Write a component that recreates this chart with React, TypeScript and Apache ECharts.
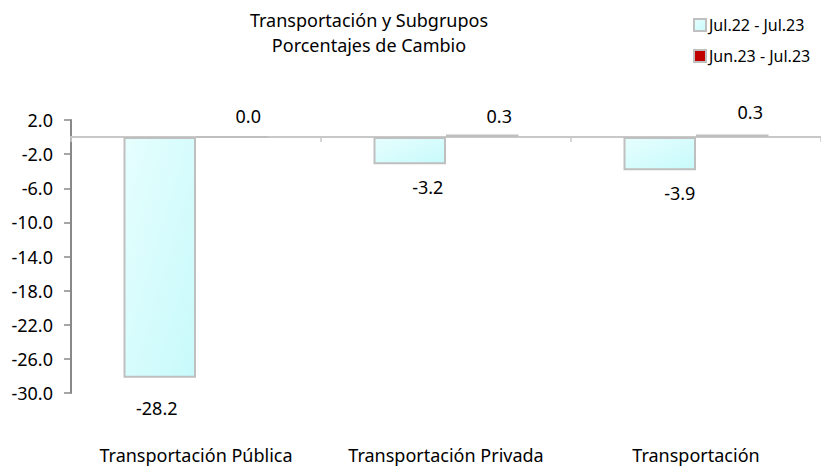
import React, { useEffect, useRef } from "react";
import * as echarts from "echarts";

const categories = ["Transportación Pública", "Transportación Privada", "Transportación"];
const seriesNames = ["Jul.22 - Jul.23", "Jun.23 - Jul.23"];
const annual = [-28.2, -3.2, -3.9];
const monthly = [0.0, 0.3, 0.3];
const titleLines = ["Transportación y Subgrupos", "Porcentajes de Cambio"];

// label placement (style only)
const annualLabelDx = [-3, 18, 20];
const annualLabelDist = [21, 14, 14];
const monthlyLabelDx = [16, 17, 18];
const monthlyLabelDist = [11, 10, 14];

const FONT = "Noto Sans";

export default function App() {
  const ref = useRef<HTMLDivElement>(null);
  useEffect(() => {
    if (!ref.current) return;
    const chart = echarts.init(ref.current, undefined, { renderer: "svg" });
    const fmt = (p: any) => Number(p.value).toFixed(1);
    chart.setOption({
      animation: false,
      backgroundColor: "#ffffff",
      textStyle: { fontFamily: FONT, color: "#000" },
      title: {
        text: titleLines.join("\n"),
        left: 364,
        top: 2,
        textAlign: "center",
        textStyle: { fontFamily: FONT, fontSize: 18, fontWeight: "normal", color: "#000", lineHeight: 25 },
      },
      legend: {
        orient: "vertical",
        left: 688,
        top: 12,
        itemWidth: 12,
        itemHeight: 12,
        itemGap: 15,
        icon: "rect",
        textStyle: { fontFamily: FONT, fontSize: 16, color: "#000", padding: [0, 0, 0, -2] },
        data: seriesNames,
      },
      grid: { left: 71, right: 0, top: 120, bottom: 73, containLabel: false },
      xAxis: [
        {
          type: "category",
          data: categories,
          axisLine: { show: true, onZero: true, lineStyle: { color: "#c8c8c8", width: 2 } },
          axisTick: { show: true, length: 5, lineStyle: { color: "#c8c8c8", width: 1.5 } },
          axisLabel: { show: false },
          splitLine: { show: false },
        },
        {
          type: "category",
          data: categories,
          position: "bottom",
          axisLine: { show: false, onZero: false },
          axisTick: { show: false },
          axisLabel: { show: true, interval: 0, margin: 53, fontSize: 18, color: "#000", fontFamily: FONT },
          splitLine: { show: false },
        },
      ],
      yAxis: {
        type: "value",
        min: -30,
        max: 2,
        interval: 4,
        axisLine: { show: true, lineStyle: { color: "#888888", width: 2 } },
        axisTick: { show: true, length: 7, lineStyle: { color: "#888888", width: 1.5 } },
        axisLabel: {
          fontSize: 18,
          color: "#000",
          margin: 18,
          fontFamily: FONT,
          formatter: (v: number) => v.toFixed(1),
        },
        splitLine: { show: false },
      },
      series: [
        {
          name: seriesNames[0],
          type: "bar",
          xAxisIndex: 0,
          barGap: "0%",
          barCategoryGap: "42%",
          itemStyle: {
            color: new echarts.graphic.LinearGradient(0, 0, 1, 1, [
              { offset: 0, color: "#e6fefe" },
              { offset: 1, color: "#c8fafb" },
            ]),
            borderColor: "#bfbfbf",
            borderWidth: 2,
          },
          label: { show: true, position: "bottom", fontSize: 18, color: "#000", fontFamily: FONT, formatter: fmt },
          data: annual.map((v, i) => ({
            value: v,
            label: { offset: [annualLabelDx[i], 0], distance: annualLabelDist[i] },
          })),
        },
        {
          name: seriesNames[1],
          type: "bar",
          xAxisIndex: 0,
          barGap: "0%",
          barCategoryGap: "42%",
          itemStyle: { color: "#c00000", borderColor: "#bfbfbf", borderWidth: 2 },
          label: { show: true, position: "top", fontSize: 18, color: "#000", fontFamily: FONT, formatter: fmt },
          data: monthly.map((v, i) => ({
            value: v,
            label: { offset: [monthlyLabelDx[i], 0], distance: monthlyLabelDist[i] },
          })),
        },
      ],
    });
    return () => chart.dispose();
  }, []);
  return <div ref={ref} style={{ width: 821, height: 466, position: "absolute", left: 0, top: 0 }} />;
}
